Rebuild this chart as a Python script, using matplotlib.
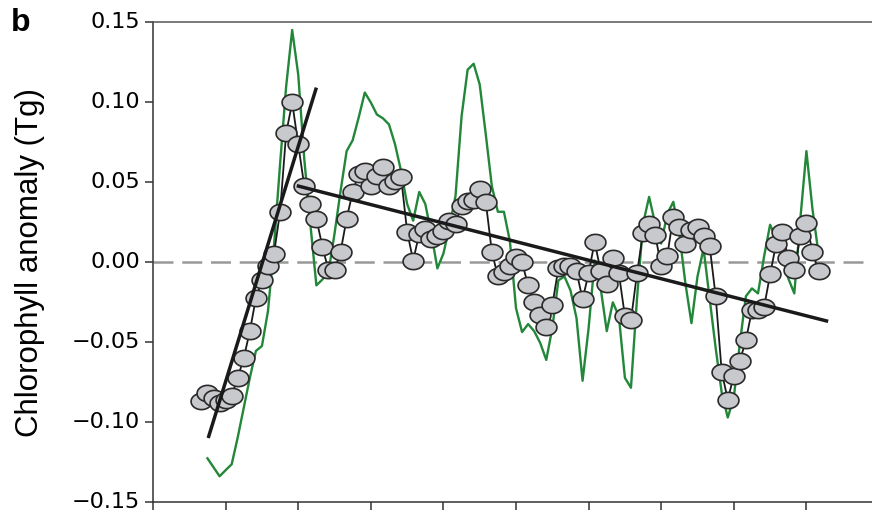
import numpy as np
import matplotlib
matplotlib.use("Agg")
import matplotlib.pyplot as plt
from matplotlib.path import Path

# monthly chlorophyll anomaly (Tg), first circle = Sep 1997
start_circles = 1997 + 8 / 12
chl = [
    -0.0866, -0.0817, -0.0848, -0.0879, -0.0860, -0.0835, -0.0724, -0.0600, -0.0432, -0.0227,
    -0.0115, -0.0022, 0.0053, 0.0314, 0.0804, 0.0997, 0.0736, 0.0475, 0.0363, 0.0270,
    0.0096, -0.0053, -0.0053, 0.0065, 0.0270, 0.0438, 0.0550, 0.0568, 0.0475, 0.0537,
    0.0593, 0.0475, 0.0506, 0.0531, 0.0190, 0.0009, 0.0177, 0.0208, 0.0146, 0.0165,
    0.0196, 0.0258, 0.0239, 0.0351, 0.0382, 0.0388, 0.0457, 0.0376, 0.0065, -0.0090,
    -0.0065, -0.0022, 0.0034, -0.0003, -0.0146, -0.0252, -0.0332, -0.0407, -0.0270, -0.0040,
    -0.0022, -0.0028, -0.0059, -0.0233, -0.0071, 0.0127, -0.0059, -0.0140, 0.0028, -0.0071,
    -0.0339, -0.0363, -0.0071, 0.0183, 0.0239, 0.0171, -0.0028, 0.0040, 0.0283, 0.0220,
    0.0115, 0.0202, 0.0220, 0.0165, 0.0102, -0.0214, -0.0686, -0.0860, -0.0711, -0.0618,
    -0.0488, -0.0301, -0.0301, -0.0283, -0.0078, 0.0115, 0.0190, 0.0022, -0.0053, 0.0165,
    0.0245, 0.0065, -0.0059,
]

# green curve, first point = Oct 1997
start_green = 1997 + 9 / 12
green = [
    -0.1227, -0.1283, -0.1339, -0.1301, -0.1264, -0.1096, -0.0910, -0.0724, -0.0556, -0.0525,
    -0.0307, 0.0102, 0.0612, 0.1096, 0.1450, 0.1171, 0.0643, 0.0239, -0.0146, -0.0109,
    -0.0065, 0.0177, 0.0444, 0.0693, 0.0761, 0.0904, 0.1059, 0.0997, 0.0922, 0.0898,
    0.0860, 0.0736, 0.0568, 0.0363, 0.0258, 0.0438, 0.0363, 0.0177, -0.0040, 0.0053,
    0.0220, 0.0413, 0.0910, 0.1202, 0.1239, 0.1109, 0.0798, 0.0475, 0.0314, 0.0314,
    0.0127, -0.0289, -0.0438, -0.0388, -0.0432, -0.0506, -0.0612, -0.0413, -0.0115, -0.0090,
    -0.0177, -0.0351, -0.0742, -0.0413, 0.0009, -0.0165, -0.0432, -0.0252, -0.0339, -0.0724,
    -0.0786, -0.0227, 0.0239, 0.0407, 0.0239, 0.0115, 0.0301, 0.0376, 0.0177, -0.0134,
    -0.0382, -0.0090, 0.0084, -0.0227, -0.0537, -0.0817, -0.0972, -0.0848, -0.0506, -0.0214,
    -0.0165, -0.0196, 0.0034, 0.0233, 0.0146, 0.0084, -0.0102, -0.0196, 0.0270, 0.0693,
    0.0332, 0.0053,
]

# trend lines (end points)
trend1_x = [1997.76, 1999.25]
trend1_y = [-0.110, 0.109]
trend2_x = [1998.98, 2006.30]
trend2_y = [0.0477, -0.0371]

yticks = [-0.15, -0.10, -0.05, 0.00, 0.05, 0.10, 0.15]
ytick_labels = ["\u22120.15", "\u22120.10", "\u22120.05", "0.00", "0.05", "0.10", "0.15"]
xticks = list(range(1997, 2007))

x_chl = start_circles + np.arange(len(chl)) / 12
x_green = start_green + np.arange(len(green)) / 12

fig = plt.figure(figsize=(8.72, 5.15), dpi=100)
ax = fig.add_axes([0.1755, 0.0252, 0.8245, 0.9321])

ax.axhline(0, color="#999999", lw=1.8, dashes=(8, 3.5), zorder=1)
ax.plot(x_green, green, color="#23873a", lw=1.7, zorder=2)

t = np.linspace(0, 2 * np.pi, 60)
ellipse = Path(np.column_stack([np.cos(t), 0.78 * np.sin(t)]), closed=True)
ax.plot(x_chl, chl, color="#1a1a1a", lw=1.3, marker=ellipse, markersize=15,
        markerfacecolor="#c8c9cc", markeredgecolor="#2a2a2a", markeredgewidth=1.2, zorder=3)

ax.plot(trend1_x, trend1_y, color="#1a1a1a", lw=2.5, solid_capstyle="butt", zorder=4)
ax.plot(trend2_x, trend2_y, color="#1a1a1a", lw=2.5, solid_capstyle="butt", zorder=4)

ax.set_xlim(1997, 1997 + 719 / 72.6)
ax.set_ylim(-0.15, 0.15)
ax.set_xticks(xticks)
ax.set_xticklabels([])
ax.set_yticks(yticks)
ax.set_yticklabels(ytick_labels, fontsize=16, family="DejaVu Sans", va="center")
ax.tick_params(axis="both", direction="out", length=6, width=1.1, color="#333333", pad=3.5)

for s in ["left", "bottom", "top"]:
    ax.spines[s].set_linewidth(1.1)
    ax.spines[s].set_color("#333333")
ax.spines["top"].set_color("#555555")
ax.spines["right"].set_visible(False)

ax.set_ylabel("Chlorophyll anomaly (Tg)", fontsize=22.5, family="Liberation Sans")
ax.yaxis.set_label_coords(-0.150, 0.5)

fig.text(11 / 872, 1 - 31 / 515, "b", fontsize=23, fontweight="bold",
         family="Liberation Sans", va="baseline")

fig.savefig("out.png", dpi=100)
